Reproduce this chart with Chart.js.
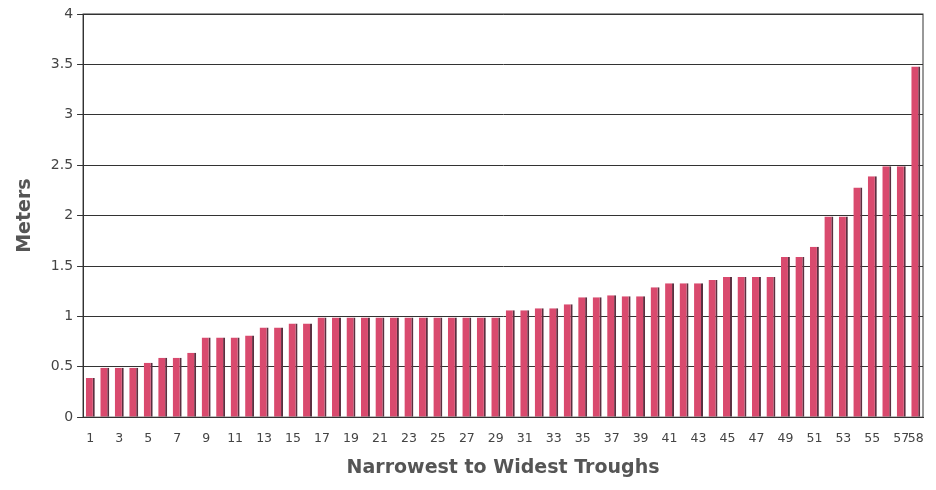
<!DOCTYPE html>
<html>
<head>
<meta charset="utf-8">
<script src="https://cdn.jsdelivr.net/npm/chart.js@4/dist/chart.umd.min.js"></script>
<style>
  html, body { margin: 0; padding: 0; background: #fff; }
  #wrap { width: 936px; height: 490px; }
</style>
</head>
<body>
<div id="wrap"><canvas id="myChart" width="936" height="490"></canvas></div>
<script>
// data
const troughs = [];
for (let i = 1; i <= 58; i++) troughs.push(String(i));

const widths = [
  0.39, 0.49, 0.49, 0.49, 0.54, 0.59, 0.59, 0.64, 0.79, 0.79,
  0.79, 0.81, 0.89, 0.89, 0.93, 0.93, 0.99, 0.99, 0.99, 0.99,
  0.99, 0.99, 0.99, 0.99, 0.99, 0.99, 0.99, 0.99, 0.99, 1.06,
  1.06, 1.08, 1.08, 1.12, 1.19, 1.19, 1.21, 1.2, 1.2, 1.29,
  1.33, 1.33, 1.33, 1.36, 1.39, 1.39, 1.39, 1.39, 1.59, 1.59,
  1.69, 1.99, 1.99, 2.28, 2.39, 2.49, 2.49, 3.48
];

const yTicks = [0, 0.5, 1, 1.5, 2, 2.5, 3, 3.5, 4];

// border round the plot area
const frame = {
  id: "frame",
  afterDraw(chart) {
    const { ctx, chartArea: a } = chart;
    ctx.save();
    ctx.strokeStyle = "#333";
    ctx.lineWidth = 1;
    ctx.strokeRect(a.left, a.top, a.right - a.left, a.bottom - a.top);
    ctx.restore();
  },
};

const config = {
  type: "bar",
  data: {
    labels: troughs,
    datasets: [
      {
        label: "Width",
        data: widths,
        backgroundColor: "#d94a6e",
        borderColor: "#5b3040",
        borderWidth: { top: 0, right: 2, bottom: 0, left: 0 },
        borderSkipped: false,
        categoryPercentage: 1,
        barPercentage: 0.62,
      },
    ],
  },
  options: {
    responsive: false,
    animation: false,
    layout: { padding: { top: 14, right: 13, left: 10, bottom: 7 } },
    plugins: {
      legend: { display: false },
      tooltip: { enabled: false },
    },
    scales: {
      x: {
        grid: { display: false, drawTicks: true },
        border: { color: "#333" },
        ticks: {
          color: "#444",
          font: { family: "DejaVu Sans", size: 12.5 },
          maxRotation: 0,
          autoSkip: false,
          padding: 6,
          callback: (v, i) => (i % 2 === 0 || i === troughs.length - 1 ? troughs[i] : ""),
        },
        title: {
          display: true,
          text: "Narrowest to Widest Troughs",
          color: "#555",
          font: { family: "DejaVu Sans", size: 19, weight: "bold" },
          padding: { top: 4 },
        },
      },
      y: {
        min: 0,
        max: 4,
        afterBuildTicks: (axis) => {
          axis.ticks = yTicks.map((v) => ({ value: v }));
        },
        grid: { color: "#333", lineWidth: 1, tickLength: 6 },
        border: { color: "#333" },
        ticks: {
          color: "#444",
          font: { family: "DejaVu Sans", size: 14 },
          padding: 4,
          callback: (v) => String(v),
        },
        title: {
          display: true,
          text: "Meters",
          color: "#555",
          font: { family: "DejaVu Sans", size: 19, weight: "bold" },
          padding: { bottom: 10 },
        },
      },
    },
  },
  plugins: [frame],
};

const myChart = new Chart(document.getElementById("myChart"), config);
</script>
</body>
</html>
